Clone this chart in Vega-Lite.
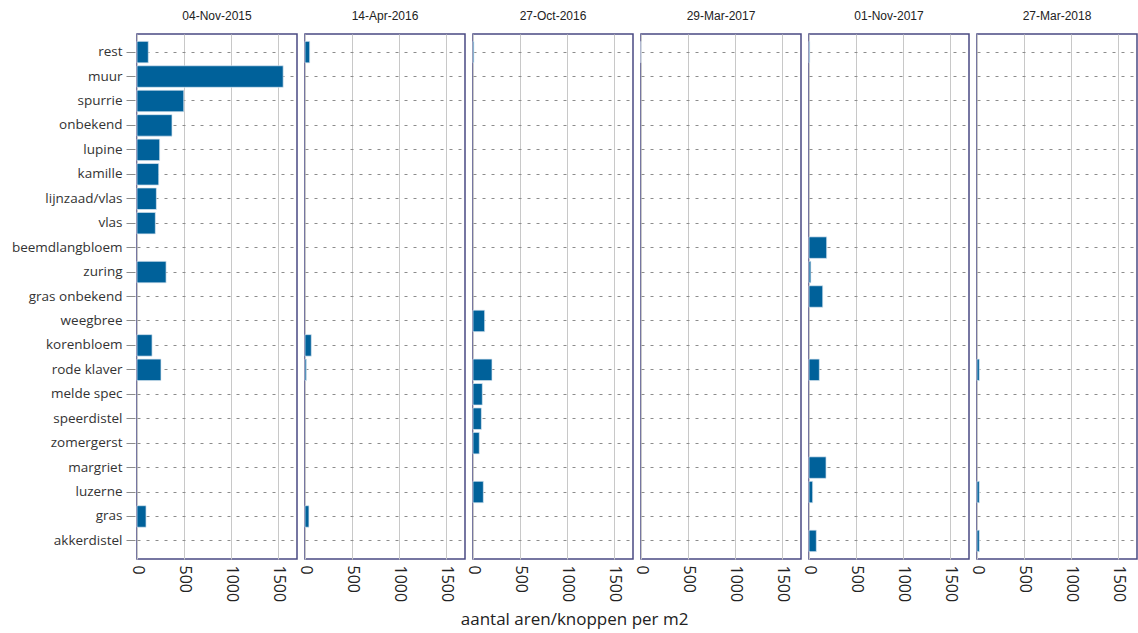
{
  "$schema": "https://vega.github.io/schema/vega-lite/v6.json",
  "padding": {"left": 11, "top": 10, "right": 0, "bottom": 5},
  "background": "white",
  "title": {"text": "aantal aren/knoppen per m2", "orient": "bottom", "anchor": "middle", "font": "Open Sans", "fontSize": 17, "fontWeight": "normal", "color": "#222222", "offset": 10},
  "data": {"values": [
    {"datum": "04-Nov-2015", "soort": "rest", "aantal": 120},
    {"datum": "04-Nov-2015", "soort": "muur", "aantal": 1553},
    {"datum": "04-Nov-2015", "soort": "spurrie", "aantal": 497},
    {"datum": "04-Nov-2015", "soort": "onbekend", "aantal": 372},
    {"datum": "04-Nov-2015", "soort": "lupine", "aantal": 241},
    {"datum": "04-Nov-2015", "soort": "kamille", "aantal": 231},
    {"datum": "04-Nov-2015", "soort": "lijnzaad/vlas", "aantal": 206},
    {"datum": "04-Nov-2015", "soort": "vlas", "aantal": 195},
    {"datum": "04-Nov-2015", "soort": "zuring", "aantal": 309},
    {"datum": "04-Nov-2015", "soort": "korenbloem", "aantal": 160},
    {"datum": "04-Nov-2015", "soort": "rode klaver", "aantal": 255},
    {"datum": "04-Nov-2015", "soort": "gras", "aantal": 96},
    {"datum": "14-Apr-2016", "soort": "rest", "aantal": 50},
    {"datum": "14-Apr-2016", "soort": "korenbloem", "aantal": 67},
    {"datum": "14-Apr-2016", "soort": "rode klaver", "aantal": 15},
    {"datum": "14-Apr-2016", "soort": "gras", "aantal": 42},
    {"datum": "27-Oct-2016", "soort": "rest", "aantal": 10},
    {"datum": "27-Oct-2016", "soort": "weegbree", "aantal": 124},
    {"datum": "27-Oct-2016", "soort": "rode klaver", "aantal": 202},
    {"datum": "27-Oct-2016", "soort": "melde spec", "aantal": 99},
    {"datum": "27-Oct-2016", "soort": "speerdistel", "aantal": 89},
    {"datum": "27-Oct-2016", "soort": "zomergerst", "aantal": 67},
    {"datum": "27-Oct-2016", "soort": "luzerne", "aantal": 110},
    {"datum": "29-Mar-2017", "soort": "rest", "aantal": 0},
    {"datum": "01-Nov-2017", "soort": "rest", "aantal": 8},
    {"datum": "01-Nov-2017", "soort": "beemdlangbloem", "aantal": 188},
    {"datum": "01-Nov-2017", "soort": "zuring", "aantal": 20},
    {"datum": "01-Nov-2017", "soort": "gras onbekend", "aantal": 146},
    {"datum": "01-Nov-2017", "soort": "rode klaver", "aantal": 110},
    {"datum": "01-Nov-2017", "soort": "margriet", "aantal": 181},
    {"datum": "01-Nov-2017", "soort": "luzerne", "aantal": 39},
    {"datum": "01-Nov-2017", "soort": "akkerdistel", "aantal": 78},
    {"datum": "27-Mar-2018", "soort": "rode klaver", "aantal": 25},
    {"datum": "27-Mar-2018", "soort": "luzerne", "aantal": 25},
    {"datum": "27-Mar-2018", "soort": "akkerdistel", "aantal": 25}
  ]},
  "facet": {
    "column": {
      "field": "datum",
      "type": "nominal",
      "sort": ["04-Nov-2015", "14-Apr-2016", "27-Oct-2016", "29-Mar-2017", "01-Nov-2017", "27-Mar-2018"],
      "title": null,
      "header": {"labelFont": "Liberation Sans", "labelFontSize": 12, "labelColor": "#222222", "labelPadding": 10}
    }
  },
  "spacing": 5,
  "spec": {
    "width": 160,
    "height": 525,
    "mark": {"type": "bar", "color": "#00619a", "stroke": "#dce8f2", "strokeWidth": 0.7},
    "encoding": {
      "y": {
        "field": "soort",
        "type": "nominal",
        "title": null,
        "scale": {
          "domain": ["rest", "muur", "spurrie", "onbekend", "lupine", "kamille", "lijnzaad/vlas", "vlas", "beemdlangbloem", "zuring", "gras onbekend", "weegbree", "korenbloem", "rode klaver", "melde spec", "speerdistel", "zomergerst", "margriet", "luzerne", "gras", "akkerdistel"],
          "paddingInner": 0.12,
          "paddingOuter": 0.3
        },
        "axis": {
          "grid": true,
          "gridDash": [3, 6],
          "gridColor": "#8c8c8c",
          "gridWidth": 1,
          "domain": false,
          "tickColor": "#8c8c8c",
          "tickSize": 9,
          "labelFont": "Open Sans",
          "labelFontSize": 13.5,
          "labelColor": "#333333",
          "labelPadding": 4
        }
      },
      "x": {
        "field": "aantal",
        "type": "quantitative",
        "title": null,
        "scale": {"domain": [0, 1700], "nice": false},
        "axis": {
          "values": [0, 500, 1000, 1500],
          "format": "d",
          "grid": true,
          "gridColor": "#c8c8c8",
          "domain": false,
          "ticks": false,
          "labelAngle": 90,
          "labelFont": "Open Sans",
          "labelFontSize": 16,
          "labelColor": "#222222",
          "labelPadding": 5
        }
      }
    }
  },
  "config": {
    "view": {"stroke": "#4a4a82", "strokeWidth": 1.5}
  }
}
